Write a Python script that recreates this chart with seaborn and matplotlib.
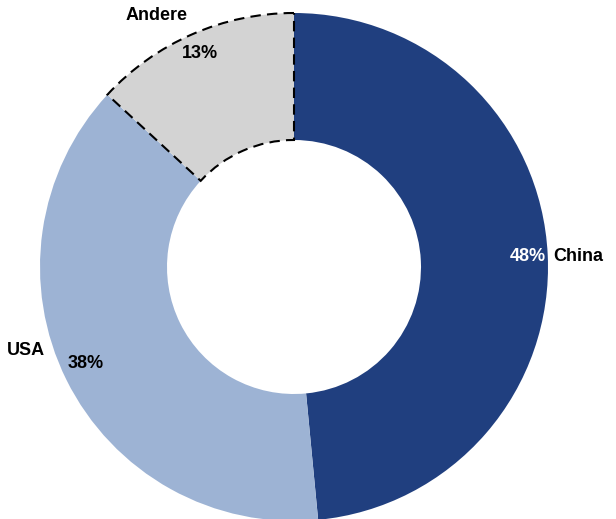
import matplotlib
matplotlib.use("Agg")
import matplotlib.pyplot as plt
import seaborn as sns
import numpy as np

sns.set_theme(style="white")
plt.rcParams['font.family'] = ['Liberation Sans', 'DejaVu Sans']

categories = ["China", "USA", "Andere"]
values = [48, 38, 13]
pct_labels = ["48%", "38%", "13%"]
colors = ["#203f7f", "#9db3d4", "#d3d3d3"]

fig = plt.figure(figsize=(6.16, 5.19), dpi=100)
ax = fig.add_axes([40/616, -2/519, 508/616, 508/519])
wedges, _ = ax.pie(values, colors=colors, startangle=90, counterclock=False,
                   radius=1.0, wedgeprops=dict(width=0.5, linewidth=0))
w = wedges[2]
w.set_edgecolor("black"); w.set_linewidth(1.5); w.set_linestyle((0, (5, 3)))
ax.set_xlim(-1, 1); ax.set_ylim(-1, 1); ax.set_aspect("equal"); ax.axis("off")

fs = 13
# China
ax.text(0.99, 0.04, pct_labels[0], ha="right", va="center", color="white", fontsize=fs, fontweight="bold")
ax.text(1.02, 0.04, categories[0], ha="left", va="center", color="black", fontsize=fs, fontweight="bold")
# USA
ax.text(-0.98, -0.33, categories[1], ha="right", va="center", color="black", fontsize=fs, fontweight="bold")
ax.text(-0.89, -0.38, pct_labels[1], ha="left", va="center", color="black", fontsize=fs, fontweight="bold")
# Andere
ax.text(-0.54, 0.99, categories[2], ha="center", va="center", color="black", fontsize=fs, fontweight="bold")
ax.text(-0.37, 0.84, pct_labels[2], ha="center", va="center", color="black", fontsize=fs, fontweight="bold")

fig.savefig("out.png", dpi=100)
